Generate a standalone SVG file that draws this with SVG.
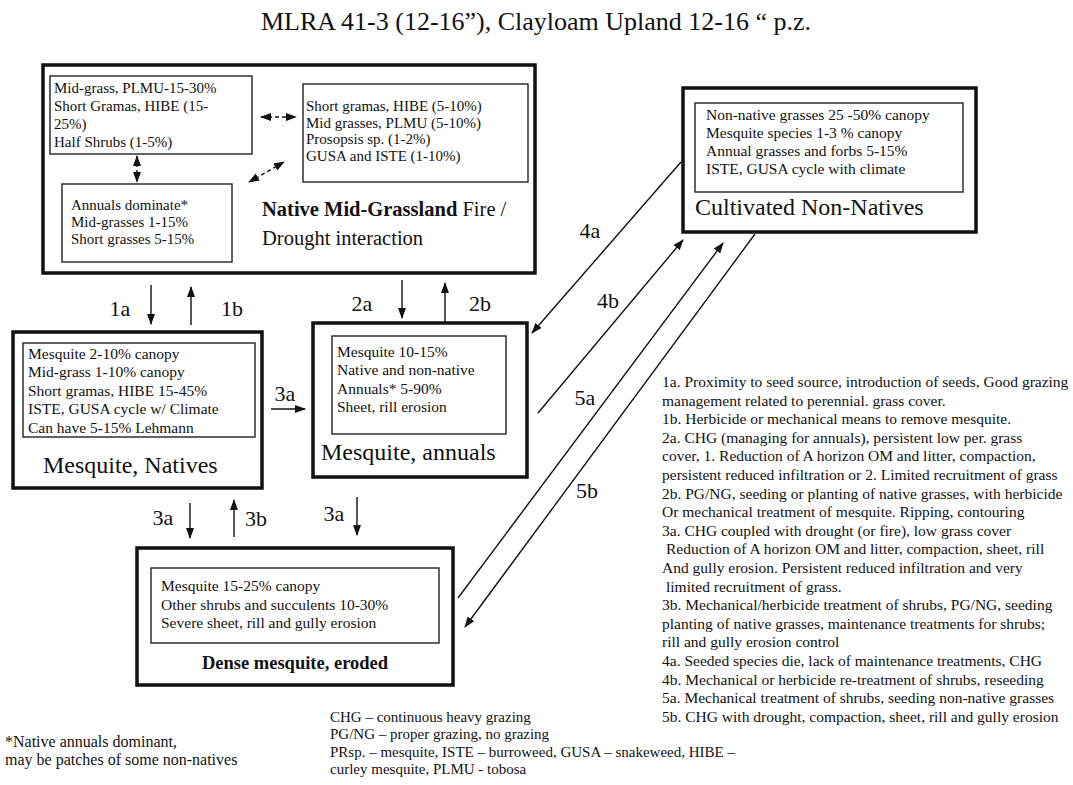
<svg xmlns="http://www.w3.org/2000/svg" width="1073" height="785" viewBox="0 0 1073 785">
<style>
text{font-family:"Liberation Serif","Times New Roman",serif;fill:#111}
.t{font-size:15.5px}
.tn{font-size:15px}
.n{font-size:15.5px}
.lg{font-size:15px}
.fn{font-size:16px}
.lbl{font-size:22px}
.big{font-size:24px}
.outer{fill:#fff;stroke:#111;stroke-width:3.5}
.inner{fill:#fff;stroke:#222;stroke-width:1.4}
.ar{stroke:#111;stroke-width:1.4;fill:none;marker-end:url(#ah)}
.dash{stroke:#111;stroke-width:1.4;fill:none;stroke-dasharray:4 3;marker-start:url(#ahs);marker-end:url(#ah)}
</style>
<defs>
<marker id="ah" markerUnits="userSpaceOnUse" markerWidth="11" markerHeight="11" viewBox="0 0 11 11" refX="10" refY="5.5" orient="auto"><path d="M0,1.5 L11,5.5 L0,9.5 Z" fill="#111"/></marker>
<marker id="ahs" markerUnits="userSpaceOnUse" markerWidth="11" markerHeight="11" viewBox="0 0 11 11" refX="1" refY="5.5" orient="auto"><path d="M11,1.5 L0,5.5 L11,9.5 Z" fill="#111"/></marker>
</defs>
<rect width="1073" height="785" fill="#fff"/>
<text x="536" y="30" text-anchor="middle" style="font-size:26px">MLRA 41-3 (12-16”), Clayloam Upland 12-16 “ p.z.</text>

<g id="native-mid-grassland">
<rect class="outer" x="43" y="65" width="492" height="208"/>
<rect class="inner" x="50" y="76" width="202" height="78"/>
<text class="tn" x="54" y="93">Mid-grass, PLMU-15-30%</text>
<text class="tn" x="54" y="111">Short Gramas, HIBE (15-</text>
<text class="tn" x="54" y="129">25%)</text>
<text class="tn" x="54" y="147">Half Shrubs (1-5%)</text>
<rect class="inner" x="303" y="84" width="225" height="98"/>
<text class="tn" x="306" y="111">Short gramas, HIBE (5-10%)</text>
<text class="tn" x="306" y="128">Mid grasses, PLMU (5-10%)</text>
<text class="tn" x="306" y="144">Prosopsis sp. (1-2%)</text>
<text class="tn" x="306" y="161">GUSA and ISTE (1-10%)</text>
<rect class="inner" x="62" y="184" width="170" height="78"/>
<text class="tn" x="71" y="210">Annuals dominate*</text>
<text class="tn" x="71" y="227">Mid-grasses 1-15%</text>
<text class="tn" x="71" y="244">Short grasses 5-15%</text>
<text x="262" y="216" style="font-size:20.5px"><tspan font-weight="bold">Native Mid-Grassland</tspan>  Fire /</text>
<text x="262" y="245" style="font-size:20.5px">Drought interaction</text>
<path class="dash" d="M261,117 L296,117"/>
<path class="dash" d="M137,156 L137,182"/>
<path class="dash" d="M249,182 L284,162"/>
</g>

<g id="cultivated-non-natives">
<rect class="outer" x="683" y="88" width="293" height="144"/>
<rect class="inner" x="695" y="103" width="268" height="89"/>
<text class="t" x="706" y="120">Non-native grasses 25 -50% canopy</text>
<text class="t" x="706" y="138">Mesquite species 1-3 % canopy</text>
<text class="t" x="706" y="156">Annual grasses and forbs 5-15%</text>
<text class="t" x="706" y="174">ISTE, GUSA cycle with climate</text>
<text class="big" x="695" y="215">Cultivated Non-Natives</text>
</g>

<g id="mesquite-natives">
<rect class="outer" x="13" y="332" width="249" height="156"/>
<rect class="inner" x="23" y="343" width="232" height="94"/>
<text class="t" x="28" y="359">Mesquite 2-10%  canopy</text>
<text class="t" x="28" y="377">Mid-grass 1-10% canopy</text>
<text class="t" x="28" y="396">Short gramas, HIBE 15-45%</text>
<text class="t" x="28" y="414">ISTE, GUSA cycle w/ Climate</text>
<text class="t" x="28" y="433">Can have 5-15% Lehmann</text>
<text class="big" x="43" y="473">Mesquite, Natives</text>
</g>

<g id="mesquite-annuals">
<rect class="outer" x="313" y="323" width="214" height="154"/>
<rect class="inner" x="332" y="336" width="174" height="98"/>
<text class="t" x="337" y="357">Mesquite 10-15%</text>
<text class="t" x="337" y="375">Native and non-native</text>
<text class="t" x="337" y="394">Annuals* 5-90%</text>
<text class="t" x="337" y="412">Sheet, rill erosion</text>
<text class="big" x="321" y="460">Mesquite, annuals</text>
</g>

<g id="dense-mesquite">
<rect class="outer" x="137" y="548" width="316" height="137"/>
<rect class="inner" x="151" y="568" width="288" height="75"/>
<text class="t" x="161" y="591">Mesquite 15-25% canopy</text>
<text class="t" x="161" y="610">Other shrubs and succulents 10-30%</text>
<text class="t" x="161" y="628">Severe sheet, rill and gully erosion</text>
<text x="295" y="669" text-anchor="middle" font-weight="bold" style="font-size:18.5px">Dense mesquite, eroded</text>
</g>

<g id="connectors">
<path class="ar" d="M151,285 L151,324"/>
<path class="ar" d="M191,325 L191,287"/>
<path class="ar" d="M402,280 L402,318"/>
<path class="ar" d="M445,322 L445,283"/>
<path class="ar" d="M271,409 L305,409"/>
<path class="ar" d="M190,503 L190,538"/>
<path class="ar" d="M234,537 L234,500"/>
<path class="ar" d="M357,497 L357,535"/>
<path class="ar" d="M681,162 L532,333"/>
<path class="ar" d="M538,413 L683,240"/>
<path class="ar" d="M458,598 L723,243"/>
<path class="ar" d="M755,234 L465,627"/>
<text class="lbl" x="120" y="316" text-anchor="middle">1a</text>
<text class="lbl" x="232" y="316" text-anchor="middle">1b</text>
<text class="lbl" x="362" y="311" text-anchor="middle">2a</text>
<text class="lbl" x="480" y="311" text-anchor="middle">2b</text>
<text class="lbl" x="285" y="401" text-anchor="middle">3a</text>
<text class="lbl" x="163" y="525" text-anchor="middle">3a</text>
<text class="lbl" x="256" y="526" text-anchor="middle">3b</text>
<text class="lbl" x="334" y="521" text-anchor="middle">3a</text>
<text class="lbl" x="590" y="238" text-anchor="middle">4a</text>
<text class="lbl" x="608" y="308" text-anchor="middle">4b</text>
<text class="lbl" x="585" y="405" text-anchor="middle">5a</text>
<text class="lbl" x="587" y="498" text-anchor="middle">5b</text>
</g>

<g id="notes">
<text class="n" x="662" y="387">1a. Proximity to seed source, introduction of seeds, Good grazing</text>
<text class="n" x="662" y="405.6">management related to perennial. grass cover.</text>
<text class="n" x="662" y="424.2">1b. Herbicide or mechanical means to remove mesquite.</text>
<text class="n" x="662" y="442.8">2a. CHG (managing for annuals), persistent low per. grass</text>
<text class="n" x="662" y="461.4">cover, 1. Reduction of A horizon OM and litter, compaction,</text>
<text class="n" x="662" y="480">persistent reduced infiltration or 2. Limited recruitment of grass</text>
<text class="n" x="662" y="498.6">2b. PG/NG, seeding or planting of native grasses, with herbicide</text>
<text class="n" x="662" y="517.2">Or mechanical treatment of mesquite. Ripping, contouring</text>
<text class="n" x="662" y="535.8">3a. CHG coupled with drought (or fire), low grass cover</text>
<text class="n" x="666" y="554.4">Reduction of A horizon OM and litter, compaction, sheet, rill</text>
<text class="n" x="662" y="573">And gully erosion. Persistent reduced infiltration and very</text>
<text class="n" x="666" y="591.6">limited recruitment of grass.</text>
<text class="n" x="662" y="610.2">3b. Mechanical/herbicide treatment of shrubs, PG/NG, seeding</text>
<text class="n" x="662" y="628.8">planting of native grasses, maintenance treatments for shrubs;</text>
<text class="n" x="662" y="647.4">rill and gully erosion control</text>
<text class="n" x="662" y="666">4a. Seeded species die, lack of maintenance treatments, CHG</text>
<text class="n" x="662" y="684.6">4b. Mechanical  or herbicide re-treatment of shrubs, reseeding</text>
<text class="n" x="662" y="703.2">5a. Mechanical treatment of shrubs, seeding non-native grasses</text>
<text class="n" x="662" y="721.8">5b. CHG with drought, compaction, sheet, rill and gully erosion</text>

<text class="fn" x="5" y="747">*Native annuals dominant,</text>
<text class="fn" x="5" y="765">may be patches of some non-natives</text>

<text class="lg" x="330" y="722">CHG – continuous heavy grazing</text>
<text class="lg" x="330" y="739">PG/NG – proper grazing, no grazing</text>
<text class="lg" x="330" y="757">PRsp. – mesquite, ISTE – burroweed, GUSA – snakeweed, HIBE –</text>
<text class="lg" x="330" y="774">curley mesquite, PLMU - tobosa</text>
</g>
</svg>
